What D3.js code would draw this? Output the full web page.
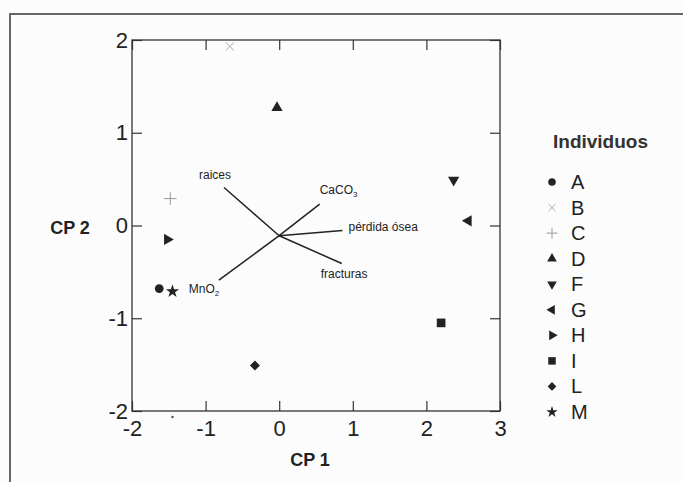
<!DOCTYPE html>
<html>
<head>
<meta charset="utf-8">
<style>
  body { margin: 0; background: #fcfcfc; }
  svg { display: block; font-family: "Liberation Sans", Arial, sans-serif; }
</style>
</head>
<body>
<svg id="chart"></svg>
<script src="https://cdn.jsdelivr.net/npm/d3@7"></script>
<script>
// individuos (scores on CP 1 / CP 2)
var names  = ['A', 'B', 'C', 'D', 'F', 'G', 'H', 'I', 'L', 'M'];
var cp1    = [-1.63, -0.67, -1.48, -0.03, 2.37, 2.57, -1.52, 2.20, -0.33, -1.45];
var cp2    = [-0.68,  1.93,  0.29,  1.27, 0.49, 0.05, -0.15, -1.05, -1.51, -0.71];

// variables (loadings, drawn from a common origin)
var varNames = ['raices', 'CaCO', 'pérdida ósea', 'fracturas', 'MnO'];
var varSub   = ['', '3', '', '', '2'];
var varX     = [-0.75, 0.55, 0.86, 0.85, -0.82];
var varY     = [ 0.41, 0.23, -0.055, -0.41, -0.59];
var origin   = [0.0, -0.11];

var xTicks = [-2, -1, 0, 1, 2, 3];
var yTicks = [-2, -1, 0, 1, 2];

var W = 683, H = 482;
var svg = d3.select('#chart').attr('width', W).attr('height', H);

// outer frame
svg.append('path')
    .attr('d', 'M10,' + H + 'V14H' + W)
    .style('fill', 'none')
    .style('stroke', '#666')
    .style('stroke-width', 2);

var x = d3.scaleLinear().domain([-2, 3]).range([132, 500]);
var y = d3.scaleLinear().domain([-2, 2]).range([411, 40]);

var g = svg.append('g');
var fmt = function(d) { return String(d); };

function styleAxis(sel) {
    sel.select('.domain').remove();
    sel.selectAll('line').style('stroke', '#333').style('stroke-width', 1.2);
    sel.selectAll('text').style('font-size', '22px').style('fill', '#222')
        .style('font-family', '"Liberation Sans", Arial, sans-serif');
}

g.append('g').attr('transform', 'translate(0,411)')
    .call(d3.axisBottom(x).tickValues(xTicks).tickSize(-10).tickPadding(9).tickFormat(fmt))
    .call(styleAxis);
g.append('g').attr('transform', 'translate(0,40)')
    .call(d3.axisTop(x).tickValues(xTicks).tickSize(-10).tickFormat(''))
    .call(styleAxis);
g.append('g').attr('transform', 'translate(132,0)')
    .call(d3.axisLeft(y).tickValues(yTicks).tickSize(-10).tickPadding(4).tickFormat(fmt))
    .call(styleAxis);
g.append('g').attr('transform', 'translate(500,0)')
    .call(d3.axisRight(y).tickValues(yTicks).tickSize(-10).tickFormat(''))
    .call(styleAxis);

// plot border
g.append('rect')
    .attr('x', x(-2)).attr('y', y(2))
    .attr('width', x(3) - x(-2)).attr('height', y(-2) - y(2))
    .style('fill', 'none').style('stroke', '#333').style('stroke-width', 1.3);

// axis titles
svg.append('text').attr('x', 310).attr('y', 466).attr('text-anchor', 'middle')
    .style('font-size', '18px').style('font-weight', 'bold').style('fill', '#222').text('CP 1');
svg.append('text').attr('x', 70).attr('y', 234).attr('text-anchor', 'middle')
    .style('font-size', '18px').style('font-weight', 'bold').style('fill', '#222').text('CP 2');

// loading vectors
var vars = varNames.map(function(n, i) { return {name: n, sub: varSub[i], x: varX[i], y: varY[i]}; });
g.selectAll('.vec').data(vars).enter().append('line')
    .attr('x1', x(origin[0])).attr('y1', y(origin[1]))
    .attr('x2', function(d) { return x(d.x); })
    .attr('y2', function(d) { return y(d.y); })
    .style('stroke', '#222').style('stroke-width', 1.5);

var labelOffset = {
    'raices': [-25, -8],
    'CaCO': [0, -10],
    'pérdida ósea': [6, 0],
    'fracturas': [-21, 14],
    'MnO': [-30, 13]
};
var lab = g.selectAll('.vlab').data(vars).enter().append('text')
    .attr('x', function(d) { return x(d.x) + labelOffset[d.name][0]; })
    .attr('y', function(d) { return y(d.y) + labelOffset[d.name][1]; })
    .style('font-size', '12px').style('fill', '#222');
lab.append('tspan').text(function(d) { return d.name; });
lab.filter(function(d) { return d.sub; }).append('tspan')
    .attr('dy', 3).style('font-size', '8px').text(function(d) { return d.sub; });

// markers
var shapes = {
    A: {type: d3.symbolCircle, size: 60, color: '#222', rot: 0},
    B: {type: d3.symbolTimes, size: 45, color: '#aaa', rot: 0, stroke: true},
    C: {type: d3.symbolPlus, size: 55, color: '#999', rot: 0, stroke: true},
    D: {type: d3.symbolTriangle, size: 55, color: '#222', rot: 0},
    F: {type: d3.symbolTriangle, size: 55, color: '#222', rot: 180},
    G: {type: d3.symbolTriangle, size: 55, color: '#222', rot: 270},
    H: {type: d3.symbolTriangle, size: 55, color: '#222', rot: 90},
    I: {type: d3.symbolSquare, size: 75, color: '#222', rot: 0},
    L: {type: d3.symbolSquare, size: 50, color: '#222', rot: 45},
    M: {type: d3.symbolStar, size: 55, color: '#222', rot: 0}
};

function drawMarker(sel, name, scale) {
    var s = shapes[name];
    var p = sel.append('path')
        .attr('d', d3.symbol().type(s.type).size(s.size * scale)())
        .attr('transform', 'rotate(' + s.rot + ')');
    if (s.stroke) p.style('fill', 'none').style('stroke', s.color).style('stroke-width', 1);
    else p.style('fill', s.color);
}

var pts = names.map(function(n, i) { return {name: n, x: cp1[i], y: cp2[i]}; });
g.selectAll('.pt').data(pts).enter().append('g')
    .attr('transform', function(d) { return 'translate(' + x(d.x) + ',' + y(d.y) + ')'; })
    .each(function(d) { drawMarker(d3.select(this), d.name, 1); });

// stray dot below the axis
g.append('circle').attr('cx', x(-1.45)).attr('cy', 417).attr('r', 1.2).style('fill', '#555');

// legend
var leg = svg.append('g');
leg.append('text').attr('x', 553).attr('y', 148)
    .style('font-size', '19px').style('font-weight', 'bold').style('fill', '#333').text('Individuos');

var ly = d3.scalePoint().domain(names).range([182, 412]);
var items = leg.selectAll('.li').data(names).enter().append('g')
    .attr('transform', function(d) { return 'translate(552,' + ly(d) + ')'; });
items.each(function(d) { drawMarker(d3.select(this), d, 0.75); });
items.append('text').attr('x', 19).attr('y', 7)
    .style('font-size', '20px').style('fill', '#222').text(function(d) { return d; });
</script>
</body>
</html>
